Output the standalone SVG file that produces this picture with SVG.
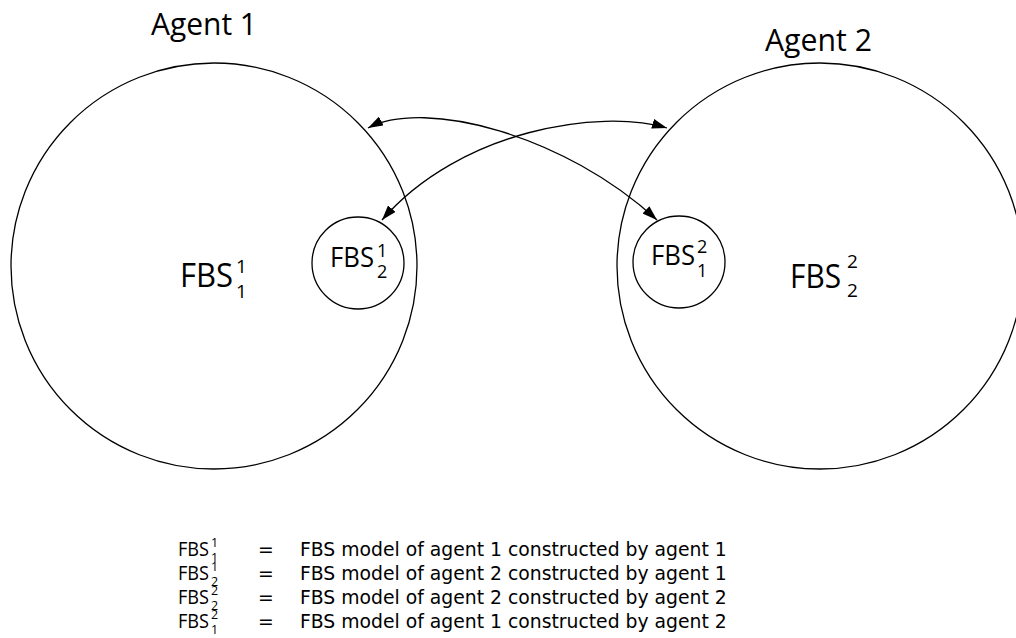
<svg xmlns="http://www.w3.org/2000/svg" width="1016" height="638" viewBox="0 0 1016 638">
<style>
.ring{fill:none;stroke:#000;stroke-width:1.3}
.conn{fill:none;stroke:#000;stroke-width:1.3}
.t{font-family:"Open Sans","Noto Sans",sans-serif;fill:#000}
.lf{font-family:"Open Sans","Noto Sans",sans-serif;fill:#000;font-size:20px}
.ld{font-family:"Open Sans","Noto Sans",sans-serif;fill:#000;font-size:12.5px}
.lg{font-family:"DejaVu Sans",Verdana,sans-serif;fill:#000;font-size:18.8px}
</style>
<defs>
<marker id="ah" viewBox="0 0 15 10" refX="15" refY="5" markerWidth="15" markerHeight="10" markerUnits="userSpaceOnUse" orient="auto-start-reverse">
<path d="M0,0 L15,5 L0,10 z" fill="#000"/>
</marker>
</defs>
<rect width="1016" height="638" fill="#fff"/>
<g id="agent1">
<circle class="ring" cx="214" cy="266" r="203"/>
<text class="t" x="151" y="35" font-size="31" textLength="106" lengthAdjust="spacingAndGlyphs">Agent 1</text>
<text class="t" font-size="32"><tspan x="180" y="287" textLength="53" lengthAdjust="spacingAndGlyphs">FBS</tspan><tspan x="236" y="273" font-size="19">1</tspan><tspan x="236" y="298" font-size="19">1</tspan></text>
</g>
<g id="agent2">
<circle class="ring" cx="820" cy="266" r="203"/>
<text class="t" x="765" y="51" font-size="31" textLength="107" lengthAdjust="spacingAndGlyphs">Agent 2</text>
<text class="t" font-size="32"><tspan x="790" y="288" textLength="51" lengthAdjust="spacingAndGlyphs">FBS</tspan><tspan x="847" y="268" font-size="19">2</tspan><tspan x="847" y="297" font-size="19">2</tspan></text>
</g>
<g id="fbs12">
<circle class="ring" cx="358" cy="263" r="46"/>
<text class="t" font-size="27"><tspan x="330" y="267" textLength="44" lengthAdjust="spacingAndGlyphs">FBS</tspan><tspan x="377" y="257" font-size="18">1</tspan><tspan x="377" y="278" font-size="18">2</tspan></text>
</g>
<g id="fbs21">
<circle class="ring" cx="679" cy="262" r="46"/>
<text class="t" font-size="27"><tspan x="651" y="265" textLength="44" lengthAdjust="spacingAndGlyphs">FBS</tspan><tspan x="697" y="253" font-size="18">2</tspan><tspan x="697" y="277" font-size="18">1</tspan></text>
</g>
<g id="connectors">
<path class="conn" d="M368,128 C425,98 565,135 657,220" marker-start="url(#ah)" marker-end="url(#ah)"/>
<path class="conn" d="M667,128 C600,108 460,130 382,220" marker-start="url(#ah)" marker-end="url(#ah)"/>
</g>
<g id="legend">
<text class="lf" x="178" y="556" textLength="31" lengthAdjust="spacingAndGlyphs">FBS</text><text class="ld" x="211" y="547">1</text><text class="ld" x="211" y="562">1</text>
<text class="lg" x="258" y="556">=</text><text class="lg" x="300" y="556">FBS model of agent 1 constructed by agent 1</text>
<text class="lf" x="178" y="580" textLength="31" lengthAdjust="spacingAndGlyphs">FBS</text><text class="ld" x="211" y="571">1</text><text class="ld" x="211" y="586">2</text>
<text class="lg" x="258" y="580">=</text><text class="lg" x="300" y="580">FBS model of agent 2 constructed by agent 1</text>
<text class="lf" x="178" y="604" textLength="31" lengthAdjust="spacingAndGlyphs">FBS</text><text class="ld" x="211" y="595">2</text><text class="ld" x="211" y="610">2</text>
<text class="lg" x="258" y="604">=</text><text class="lg" x="300" y="604">FBS model of agent 2 constructed by agent 2</text>
<text class="lf" x="178" y="628" textLength="31" lengthAdjust="spacingAndGlyphs">FBS</text><text class="ld" x="211" y="619">2</text><text class="ld" x="211" y="634">1</text>
<text class="lg" x="258" y="628">=</text><text class="lg" x="300" y="628">FBS model of agent 1 constructed by agent 2</text>
</g>
</svg>
